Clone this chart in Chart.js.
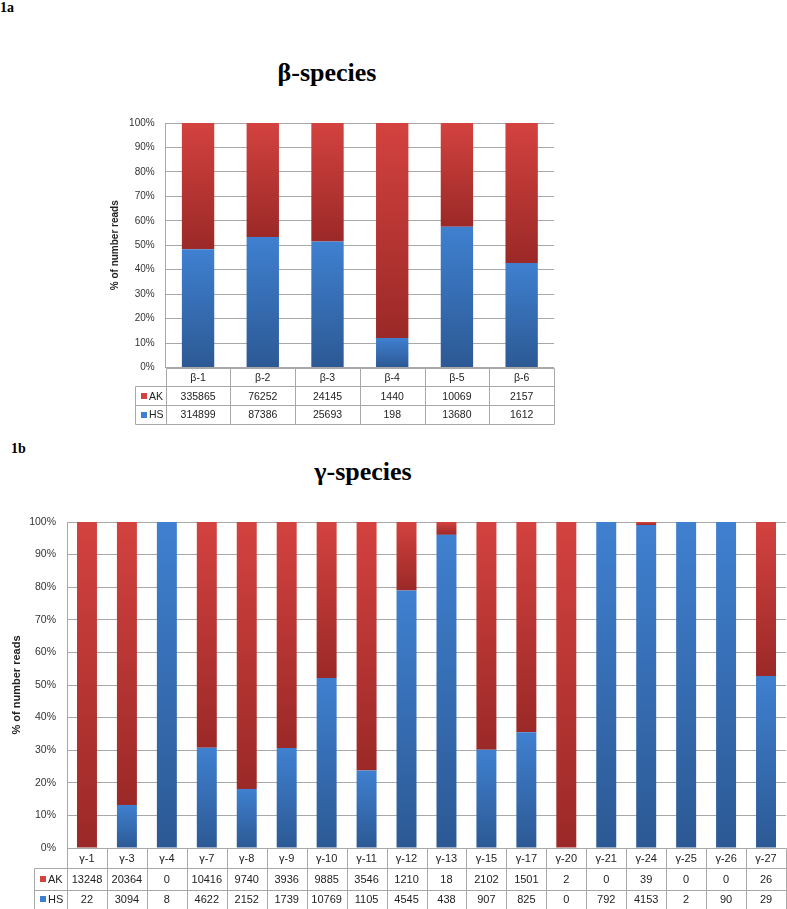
<!DOCTYPE html>
<html>
<head>
<meta charset="utf-8">
<script src="https://cdn.jsdelivr.net/npm/chart.js@4/dist/chart.umd.min.js"></script>
<style>
  html, body { margin: 0; padding: 0; background: #fff; }
  body { width: 787px; height: 909px; position: relative; overflow: hidden; }
  .lbl { position: absolute; font-family: "Liberation Serif", "DejaVu Serif", serif; font-weight: bold; color: #000; white-space: nowrap; }
  .fig { font-size: 14px; }
  .ttl { font-size: 26px; text-align: center; width: 240px; line-height: 30px; }
  canvas { position: absolute; left: 0; }
</style>
</head>
<body>
<div class="lbl fig" style="left:0;top:0;">1a</div>
<div class="lbl ttl" style="left:207px;top:58px;">β-species</div>
<div class="lbl fig" style="left:11px;top:441px;">1b</div>
<div class="lbl ttl" style="left:243px;top:457px;">γ-species</div>

<canvas id="betaChart" width="787" height="430" style="top:0;"></canvas>
<canvas id="gammaChart" width="787" height="449" style="top:460px;"></canvas>

<script>
// read counts (AK / HS) per species, as printed in the data tables
const betaLabels = ['β-1', 'β-2', 'β-3', 'β-4', 'β-5', 'β-6'];
const betaAK = [335865, 76252, 24145, 1440, 10069, 2157];
const betaHS = [314899, 87386, 25693, 198, 13680, 1612];

const gammaLabels = ['γ-1', 'γ-3', 'γ-4', 'γ-7', 'γ-8', 'γ-9', 'γ-10', 'γ-11', 'γ-12',
    'γ-13', 'γ-15', 'γ-17', 'γ-20', 'γ-21', 'γ-24', 'γ-25', 'γ-26', 'γ-27'];
const gammaAK = [13248, 20364, 0, 10416, 9740, 3936, 9885, 3546, 1210, 18, 2102, 1501, 2, 0, 39, 0, 0, 26];
const gammaHS = [22, 3094, 8, 4622, 2152, 1739, 10769, 1105, 4545, 438, 907, 825, 0, 792, 4153, 2, 90, 29];

const yTicks = [0, 10, 20, 30, 40, 50, 60, 70, 80, 90, 100];

const RED = ['#d3423f', '#9b2927'];
const BLUE = ['#3f80d0', '#2c5994'];
const LINE = '#a8a8a8';

// 100% stacked: share of each group in the total reads
const pct = (part, other) => part.map((v, i) => v / (v + other[i]) * 100);

// each segment gets its own top-to-bottom gradient, like the Excel fill
function segmentFill(colors) {
    return (c) => {
        const chart = c.chart;
        if (!chart.chartArea || c.type !== 'data') return colors[0];
        const y = chart.scales.y;
        const hs = chart.data.datasets[0].data[c.dataIndex];
        let top, bottom;
        if (c.datasetIndex === 0) { top = y.getPixelForValue(hs); bottom = y.getPixelForValue(0); }
        else { top = y.getPixelForValue(100); bottom = y.getPixelForValue(hs); }
        if (!(bottom - top > 0.5)) return colors[0];
        const g = chart.ctx.createLinearGradient(0, top, 0, bottom);
        g.addColorStop(0, colors[0]);
        g.addColorStop(1, colors[1]);
        return g;
    };
}

// data table under the plot (categories, AK row, HS row)
const dataTable = {
    id: 'dataTable',
    afterDraw(chart, args, opts) {
        const { ctx, chartArea } = chart;
        const x = chart.scales.x;
        const n = opts.labels.length;
        const left = chartArea.left, right = chartArea.right;
        const step = (right - left) / n;
        const y0 = chartArea.bottom;
        const y1 = y0 + opts.rows[0], y2 = y1 + opts.rows[1], y3 = y2 + opts.rows[2];
        const px = (v) => Math.round(v) + 0.5;

        ctx.save();
        ctx.strokeStyle = LINE;
        ctx.lineWidth = 1;
        ctx.beginPath();
        for (let i = 0; i <= n; i++) {
            const xb = px(left + i * step);
            ctx.moveTo(xb, px(y0)); ctx.lineTo(xb, px(y3));
        }
        ctx.moveTo(px(opts.legendLeft), px(y1)); ctx.lineTo(px(opts.legendLeft), px(y3));
        ctx.moveTo(px(left), px(y0)); ctx.lineTo(px(right), px(y0));
        [y1, y2, y3].forEach(yy => { ctx.moveTo(px(opts.legendLeft), px(yy)); ctx.lineTo(px(right), px(yy)); });
        ctx.stroke();

        ctx.fillStyle = '#222';
        ctx.font = opts.fontSize + 'px "Liberation Sans", Arial, sans-serif';
        ctx.textAlign = 'center';
        ctx.textBaseline = 'middle';
        for (let i = 0; i < n; i++) {
            const cx = x.getPixelForTick(i);
            ctx.fillText(opts.labels[i], cx, (y0 + y1) / 2 + 1);
            ctx.fillText(String(opts.ak[i]), cx, (y1 + y2) / 2 + 1);
            ctx.fillText(String(opts.hs[i]), cx, (y2 + y3) / 2 + 1);
        }

        // legend keys
        ctx.textAlign = 'left';
        [[RED[0], 'AK', (y1 + y2) / 2], [BLUE[0], 'HS', (y2 + y3) / 2]].forEach(([col, txt, cy]) => {
            ctx.fillStyle = col;
            ctx.fillRect(opts.legendLeft + 6, Math.round(cy - 3), 6, 6);
            ctx.fillStyle = '#222';
            ctx.fillText(txt, opts.legendLeft + 14, cy + 1);
        });
        ctx.restore();
    }
};

function makeChart(id, labels, ak, hs, cfg) {
    const hsPct = pct(hs, ak);
    const akPct = pct(ak, hs);
    return new Chart(document.getElementById(id), {
        type: 'bar',
        data: {
            labels: labels,
            datasets: [
                { label: 'HS', data: hsPct, backgroundColor: segmentFill(BLUE), borderWidth: 0 },
                { label: 'AK', data: akPct, backgroundColor: segmentFill(RED), borderWidth: 0 }
            ]
        },
        options: {
            responsive: false,
            animation: false,
            layout: { padding: cfg.padding },
            datasets: { bar: { categoryPercentage: 1, barPercentage: 0.5 } },
            scales: {
                x: { display: false, stacked: true },
                y: {
                    stacked: true,
                    min: 0,
                    max: 100,
                    afterBuildTicks: (s) => { s.ticks = yTicks.map(v => ({ value: v })); },
                    afterFit: (s) => { s.width = cfg.axisWidth; },
                    ticks: {
                        padding: 11,
                        color: '#333',
                        font: { family: '"Liberation Sans", Arial, sans-serif', size: cfg.tickSize },
                        callback: (v) => v + '%'
                    },
                    grid: { color: LINE, drawTicks: false },
                    border: { color: LINE },
                    title: {
                        display: true,
                        text: '% of number reads',
                        color: '#222',
                        padding: { top: 4, bottom: 4 },
                        font: { family: '"Liberation Sans", Arial, sans-serif', size: cfg.titleSize, weight: 'bold' }
                    }
                }
            },
            plugins: {
                legend: { display: false },
                tooltip: { enabled: false },
                dataTable: {
                    labels: labels, ak: ak, hs: hs,
                    rows: cfg.rows, legendLeft: cfg.legendLeft, fontSize: cfg.tableSize
                }
            }
        },
        plugins: [dataTable]
    });
}

makeChart('betaChart', betaLabels, betaAK, betaHS, {
    padding: { top: 123, left: 105, right: 233, bottom: 62.5 },
    axisWidth: 60.7,
    rows: [18.7, 19, 18.7],
    legendLeft: 135,
    tickSize: 10, titleSize: 10, tableSize: 10.5
});

makeChart('gammaChart', gammaLabels, gammaAK, gammaHS, {
    padding: { top: 62, left: 6, right: 1, bottom: 61 },
    axisWidth: 61,
    rows: [20.3, 21.3, 19.3],
    legendLeft: 34,
    tickSize: 10.5, titleSize: 11, tableSize: 11
});
</script>
</body>
</html>
